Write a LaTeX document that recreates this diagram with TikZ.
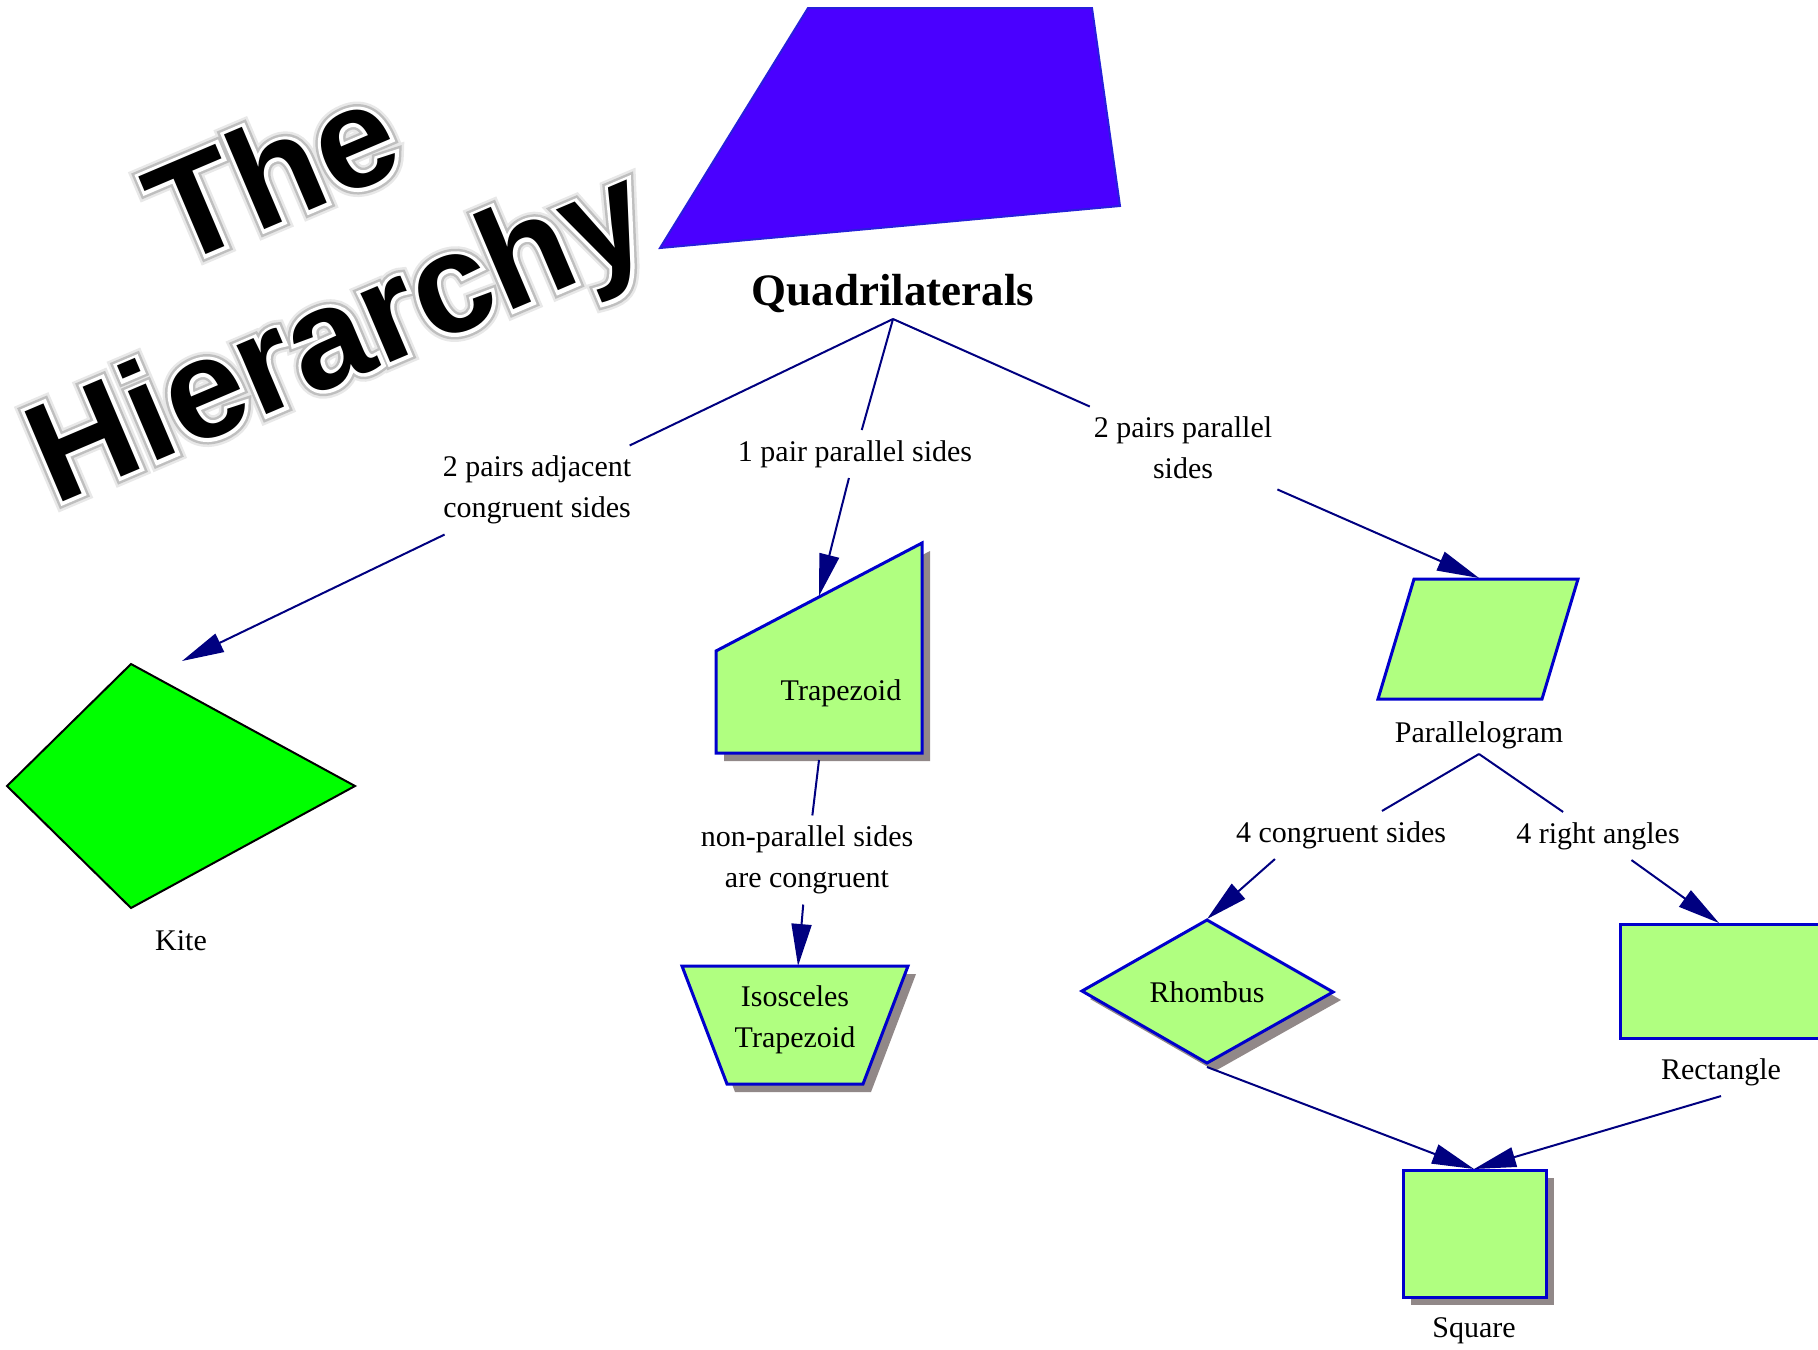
\documentclass[tikz,border=0pt]{standalone}
\usepackage{fontspec}
\setmainfont{Liberation Serif}
\newfontfamily\titlefont{Liberation Sans Bold}
\newfontfamily\titlehalofar{Liberation Sans Bold}[FakeBold=12]
\newfontfamily\titlehalonear{Liberation Sans Bold}[FakeBold=8.5]
\newfontfamily\titlerim{Liberation Sans Bold}[FakeBold=5]
\usetikzlibrary{arrows.meta}

\definecolor{shapegreen}{RGB}{176,255,128}
\definecolor{shapeblue}{RGB}{0,0,204}
\definecolor{shadowgray}{RGB}{145,136,136}
\definecolor{edgenavy}{RGB}{0,0,128}
\definecolor{quadviolet}{RGB}{74,0,255}
\definecolor{quadedge}{RGB}{40,30,220}
\definecolor{kitegreen}{RGB}{0,255,0}

\begin{document}
\begin{tikzpicture}[x=0.5pt,y=-0.5pt,
  lbl/.style={font=\fontsize{15}{20.5}\selectfont, align=center, inner sep=5pt},
  conn/.style={draw=edgenavy, line width=1pt},
  arr/.style={conn, -{Triangle[length=21pt,width=10pt]}},
  shp/.style={fill=shapegreen, draw=shapeblue, line width=1.5pt, line join=miter},
  shadowfill/.style={fill=shadowgray, shift={(8,8)}},
  titlebase/.style={anchor=base, rotate=23, inner sep=0pt},
  titletext/.style={titlebase, font=\titlefont\fontsize{71}{71}\selectfont},
  glowfar/.style={titlebase, font=\titlehalofar\fontsize{71}{71}\selectfont, text=black!9},
  glownear/.style={titlebase, font=\titlehalonear\fontsize{71}{71}\selectfont, text=black!25},
  rim/.style={titlebase, font=\titlerim\fontsize{71}{71}\selectfont, text=white}]

\useasboundingbox (0,0) rectangle (1818,1349);
\clip (0,0) rectangle (1818,1349);

% ---------- title with white rim and soft halo ----------
\coordinate (theBase) at (292,218);
\coordinate (hierBase) at (356,377);
\node[glowfar]  (thefar)   at (theBase)  {The};
\node[glowfar]  (hierfar)  at (hierBase) {Hierarchy};
\node[glownear] (thenear)  at (theBase)  {The};
\node[glownear] (hiernear) at (hierBase) {Hierarchy};
\node[rim]      (therim)   at (theBase)  {The};
\node[rim]      (hierrim)  at (hierBase) {Hierarchy};
\node[titletext] (titleThe)  at (theBase)  {The};
\node[titletext] (titleHier) at (hierBase) {Hierarchy};

% ---------- root: quadrilateral ----------
\draw[fill=quadviolet, draw=quadedge, line width=1pt, line join=miter]
  (808,8) -- (1092,8) -- (1120,206) -- (660,248) -- cycle;
\node[font=\bfseries\fontsize{22.5}{26}\selectfont, inner sep=0pt] (quad) at (893,294) {Quadrilaterals};
\coordinate (qfork) at (893,319);

% ---------- kite ----------
\draw[fill=kitegreen, draw=black, line width=1pt, line join=miter]
  (131,664) -- (355,786) -- (131,908) -- (7,786) -- cycle;
\coordinate (kitetip) at (182,661);
\node[lbl] (kitelab) at (181,941) {Kite};

% ---------- trapezoid ----------
\fill[shadowfill] (922,543) -- (922,753) -- (716,753) -- (716,651) -- cycle;
\draw[shp] (922,543) -- (922,753) -- (716,753) -- (716,651) -- cycle;
\coordinate (traptip) at (819,596);
\coordinate (trapbot) at (819,760);
\node[lbl] (traplab) at (841,693) {Trapezoid};

% ---------- isosceles trapezoid ----------
\fill[shadowfill] (682,966) -- (908,966) -- (863,1084) -- (727,1084) -- cycle;
\draw[shp] (682,966) -- (908,966) -- (863,1084) -- (727,1084) -- cycle;
\coordinate (isotip) at (798,966);
\node[lbl] (isolab) at (795,1020) {Isosceles\\Trapezoid};

% ---------- parallelogram ----------
\draw[shp] (1414,579) -- (1578,579) -- (1542,699) -- (1378,699) -- cycle;
\coordinate (paratip) at (1479,578);
\node[lbl] (paralab) at (1479,735) {Parallelogram};
\coordinate (pfork) at (1479,754);

% ---------- rhombus ----------
\fill[shadowfill] (1207,920) -- (1333,992) -- (1207,1063) -- (1082,991) -- cycle;
\draw[shp] (1207,920) -- (1333,992) -- (1207,1063) -- (1082,991) -- cycle;
\coordinate (rhtop) at (1207,919);
\coordinate (rhbot) at (1207,1067);
\node[lbl] (rhlab) at (1207,992) {Rhombus};

% ---------- rectangle ----------
\draw[shp] (1620,924) rectangle (1824,1038);
\coordinate (recttip) at (1719,923);
\node[lbl] (rectlab) at (1721,1072) {Rectangle};

% ---------- square ----------
\fill[shadowfill] (1403,1170) rectangle (1546,1297);
\draw[shp] (1403,1170) rectangle (1546,1297);
\coordinate (sqtip) at (1474,1169);
\node[lbl] (sqlab) at (1474,1331) {Square};

% ---------- edge labels ----------
\node[lbl] (adjlab) at (537,490) {2 pairs adjacent\\congruent sides};
\node[lbl] (onelab) at (855,454) {1 pair parallel sides};
\node[lbl] (twolab) at (1183,448) {2 pairs parallel\\sides};
\node[lbl] (nplab) at (807,860) {non-parallel sides\\are congruent};
\node[lbl] (conglab) at (1341,835) {4 congruent sides};
\node[lbl] (rightlab) at (1598,836) {4 right angles};

% ---------- connectors ----------
\draw[conn] (qfork) -- (adjlab);
\draw[arr]  (adjlab) -- (kitetip);
\draw[conn] (qfork) -- (onelab);
\draw[arr]  (onelab) -- (traptip);
\draw[conn] (qfork) -- (twolab);
\draw[arr]  (twolab) -- (paratip);
\draw[conn] (trapbot) -- (nplab);
\draw[arr]  (nplab) -- (isotip);
\draw[conn] (pfork) -- (conglab);
\draw[arr]  (conglab.200) -- (rhtop);
\draw[conn] (pfork) -- (rightlab);
\draw[arr]  (rightlab) -- (recttip);
\draw[arr]  (rhbot) -- (sqtip);
\draw[arr]  (rectlab.south) -- (sqtip);

\end{tikzpicture}
\end{document}
